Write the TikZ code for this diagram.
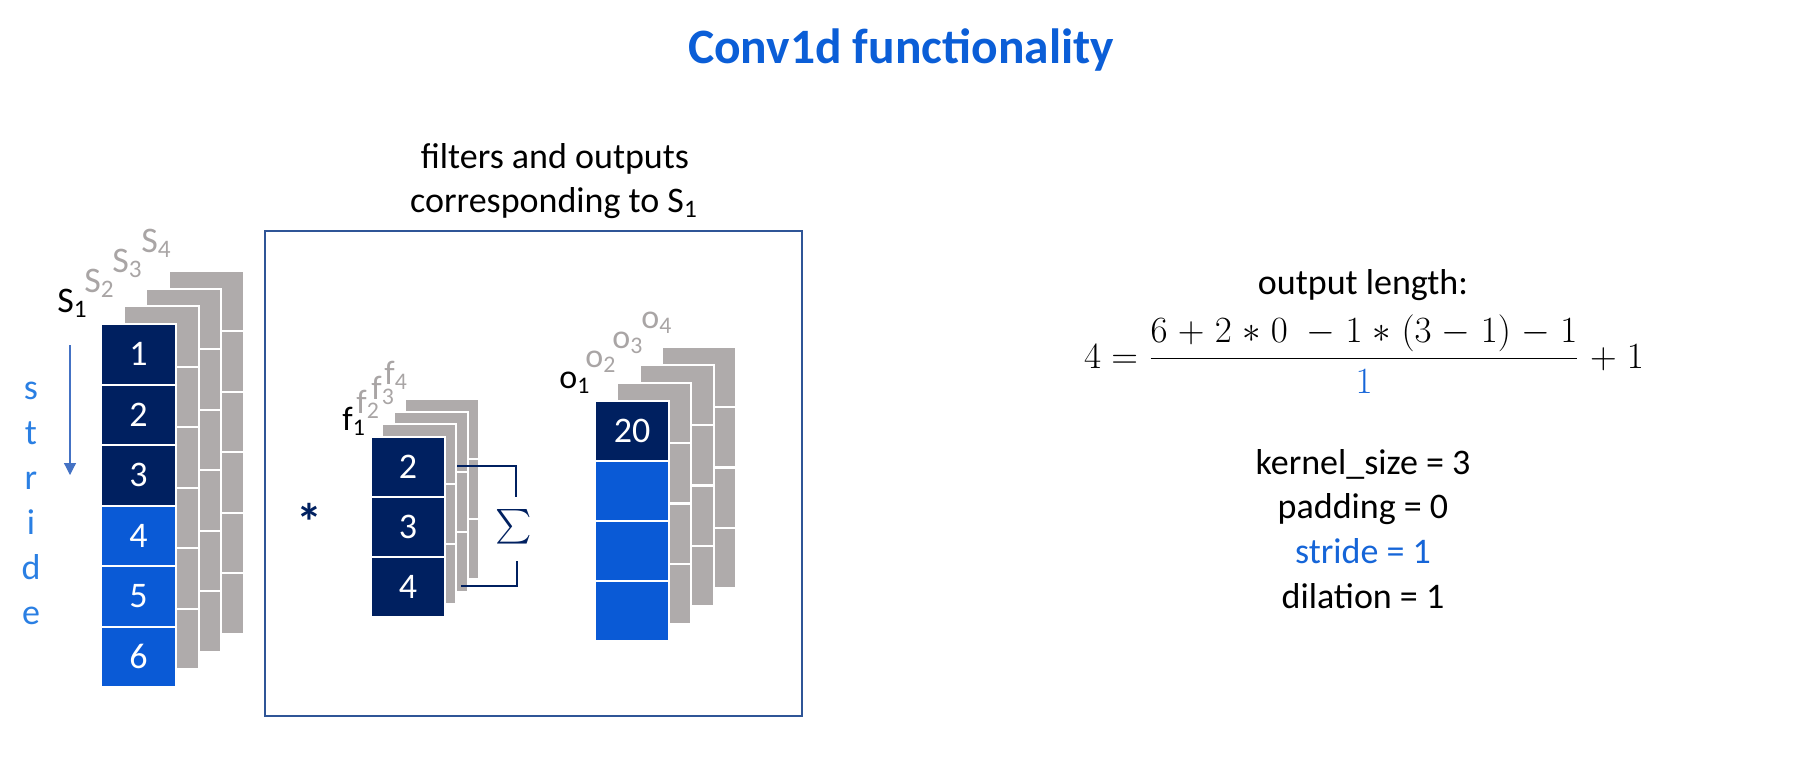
\RequirePackage{fix-cm}
\documentclass[tikz,border=0pt]{standalone}
\usepackage[no-math]{fontspec}
\setmainfont{Carlito}
\usepackage{amsmath}
\usepackage{xcolor}
\usetikzlibrary{positioning, arrows.meta}

\definecolor{navy}{HTML}{002060}
\definecolor{brightblue}{HTML}{0A5AD6}
\definecolor{titleblue}{HTML}{0B5ED7}
\definecolor{textblue}{HTML}{1565D8}
\definecolor{strideblue}{HTML}{2A7FE3}
\definecolor{stackgray}{HTML}{AFABAB}
\definecolor{labelgray}{HTML}{A9A5A5}
\definecolor{framecol}{HTML}{2F5597}
\definecolor{arrowcol}{HTML}{4472C4}

\begin{document}
\begin{tikzpicture}[
  x=0.5pt, y=-0.5pt,
  cell/.style={
    rectangle,
    draw=white,
    line width=1pt,
    inner sep=0pt,
    outer sep=0pt,
    text=white,
    font=\fontsize{18}{20}\selectfont
  },
  wide/.style={cell, minimum width=37.5pt, minimum height=30.25pt},
  narrow/.style={cell, minimum width=37pt, minimum height=30pt},
  back/.style={fill=stackgray, anchor=north west},
  lbl/.style={anchor=base west, inner sep=0pt, font=\fontsize{18}{20}\selectfont},
  smalllbl/.style={lbl, font=\fontsize{17}{19}\selectfont},
  txt/.style={anchor=base, inner sep=0pt, font=\fontsize{18}{22}\selectfont},
  arr/.style={-{Triangle[length=6pt, width=6pt]}, draw=arrowcol, fill=arrowcol, line width=0.6pt},
  bracket/.style={draw=navy, line width=0.6pt}
]

\useasboundingbox (0,0) rectangle (1797,762);

% title
\node[txt, font=\fontsize{24.75}{28}\selectfont\bfseries, text=titleblue] (title) at (901,63) {Conv1d functionality};

% input sequence
\foreach \k in {3,2,1}
  \foreach \j in {1,...,6}
    \node[wide, back] (xb\k-\j) at (101+22.5*\k, 324-17.7*\k+60.5*\j-60.5) {};

\node[wide, fill=navy, anchor=north west] (x1) at (101,324) {1};
\node[wide, fill=navy, below=0pt of x1] (x2) {2};
\node[wide, fill=navy, below=0pt of x2] (x3) {3};
\node[wide, fill=brightblue, below=0pt of x3] (x4) {4};
\node[wide, fill=brightblue, below=0pt of x4] (x5) {5};
\node[wide, fill=brightblue, below=0pt of x5] (x6) {6};

\node[lbl] (xs1) at (57,312) {S\textsubscript{1}};
\node[lbl, text=labelgray] (xs2) at (84,292) {S\textsubscript{2}};
\node[lbl, text=labelgray] (xs3) at (112,272) {S\textsubscript{3}};
\node[lbl, text=labelgray] (xs4) at (141,252) {S\textsubscript{4}};

% stride
\foreach \ch [count=\i] in {s,t,r,i,d,e}
  \node[txt, text=strideblue] (st\i) at (31, 354+45*\i) {\ch};
\coordinate (ar0) at (70,345);
\coordinate (ar1) at (70,475);
\draw[arr] (ar0) -- (ar1);

% filters and outputs for S1
\node[txt] (head1) at (555,168) {filters and outputs};
\node[txt] (head2) at (554,212) {corresponding to S\textsubscript{1}};
\draw[framecol, line width=1pt] (265,231) rectangle (802,716);

\node[txt, text=navy, font=\fontsize{26}{28}\selectfont\bfseries] (star) at (309,540) {*};

\foreach \k in {3,2,1}
  \foreach \j in {1,2,3}
    \node[narrow, back] (wb\k-\j) at (371+11.3*\k, 437-12.7*\k+60*\j-60) {};

\node[narrow, fill=navy, anchor=north west] (w1) at (371,437) {2};
\node[narrow, fill=navy, below=0pt of w1] (w2) {3};
\node[narrow, fill=navy, below=0pt of w2] (w3) {4};

\node[smalllbl] (wl1) at (342,430) {f\textsubscript{1}};
\node[smalllbl, text=labelgray] (wl2) at (356,413) {f\textsubscript{2}};
\node[smalllbl, text=labelgray] (wl3) at (371,399) {f\textsubscript{3}};
\node[smalllbl, text=labelgray] (wl4) at (384,384) {f\textsubscript{4}};

\node[inner sep=0pt, text=navy, font=\fontsize{18}{20}\selectfont] (sig) at (514,527) {$\sum$};
\coordinate (bt) at (457,466);
\coordinate (bb) at (461,586);
\draw[bracket] (bt) -- ++(59,0) -- ++(0,31);
\draw[bracket] (bb) -- ++(56,0) -- ++(0,-25);

\foreach \k in {3,2,1}
  \foreach \j in {1,...,4}
    \node[narrow, back] (ob\k-\j) at (595+22.3*\k, 401-18*\k+60.25*\j-60.25) {};

\node[narrow, fill=navy, anchor=north west] (o1) at (595,401) {20};
\node[narrow, fill=brightblue, below=0pt of o1] (o2) {};
\node[narrow, fill=brightblue, below=0pt of o2] (o3) {};
\node[narrow, fill=brightblue, below=0pt of o3] (o4) {};

\node[smalllbl] (ol1) at (559,388) {o\textsubscript{1}};
\node[smalllbl, text=labelgray] (ol2) at (585,367) {o\textsubscript{2}};
\node[smalllbl, text=labelgray] (ol3) at (612,348) {o\textsubscript{3}};
\node[smalllbl, text=labelgray] (ol4) at (641,328) {o\textsubscript{4}};

% output length
\node[txt] (outlen) at (1363,294) {output length:};
\node[anchor=base, inner sep=0pt, font=\fontsize{18.5}{20}\selectfont] (eq) at (1364,368)
  {$\medmuskip=5mu 4 = \dfrac{6+2*0\ -1*(3-1)-1}{\textcolor{textblue}{1}}+1$};

\node[txt] (ks) at (1363,474) {kernel\_size = 3};
\node[txt] (pd) at (1363,518) {padding = 0};
\node[txt, text=textblue] (sd) at (1363,563) {stride = 1};
\node[txt] (dl) at (1363,608) {dilation = 1};

\end{tikzpicture}
\end{document}
